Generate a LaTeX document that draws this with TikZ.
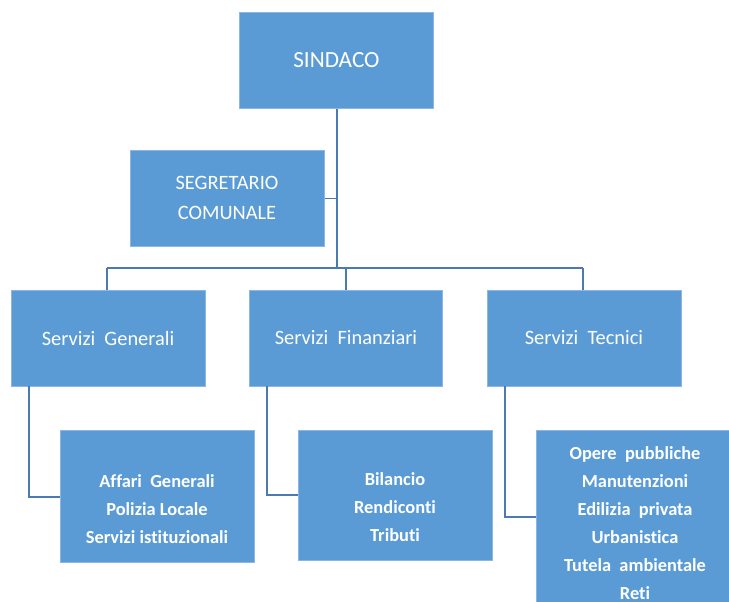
\documentclass[tikz,border=0pt]{standalone}
\usepackage{fontspec}
\setmainfont{Carlito}[Ligatures={NoCommon}]
\definecolor{boxfill}{HTML}{5B9BD5}
\definecolor{boxedge}{HTML}{8DB6E2}
\definecolor{linecol}{HTML}{4A7AB0}
\begin{document}
\begin{tikzpicture}[x=1pt,y=-1pt,
  box/.style={draw=boxedge,line width=0.8pt,fill=boxfill,inner sep=0pt,anchor=north west},
  toptxt/.style={text=white,font=\fontsize{20.4}{30}\selectfont,align=center},
  subtxt/.style={text=white,font=\fontsize{18.4}{28}\selectfont\bfseries,align=center},
  conn/.style={draw=linecol,line width=1.8pt}]
\useasboundingbox (0,0) rectangle (729,602);
% boxes
\node[box,minimum width=194pt,minimum height=96pt] (sind) at (239,12) {};
\node[box,minimum width=194pt,minimum height=96pt] (segr) at (130,150) {};
\node[box,minimum width=194pt,minimum height=96pt] (gen) at (11,290) {};
\node[box,minimum width=193pt,minimum height=96pt] (fin) at (249,290) {};
\node[box,minimum width=194pt,minimum height=96pt] (tec) at (487,290) {};
\node[box,minimum width=194pt,minimum height=132pt] (aff) at (60,430) {};
\node[box,minimum width=194pt,minimum height=130pt] (bil) at (298,430) {};
\node[box,minimum width=198pt,minimum height=190pt] (ope) at (536,430) {};
% texts
\node[toptxt,font=\fontsize{23.2}{30}\selectfont] (tsind) at (sind.center) {SINDACO};
\node[toptxt] (tsegr) at (227,198) {SEGRETARIO\\COMUNALE};
\node[toptxt] (tgen) at (108,338) {Servizi\ \ Generali};
\node[toptxt] (tfin) at (346,338) {Servizi\ \ Finanziari};
\node[toptxt] (ttec) at (584,338) {Servizi\ \ Tecnici};
\node[subtxt] (taff) at (157,509) {Affari\ \ Generali\\Polizia Locale\\Servizi istituzionali};
\node[subtxt] (tbil) at (395,507) {Bilancio\\Rendiconti\\Tributi};
\node[subtxt] (tope) at (635,523) {Opere\ \ pubbliche\\Manutenzioni\\Edilizia\ \ privata\\Urbanistica\\Tutela\ \ ambientale\\Reti};
% connectors
\coordinate (bus) at (337,268);
\coordinate (busL) at (107,268);
\coordinate (busR) at (583,268);
\draw[conn] (sind.south -| bus) -- (bus);
\draw[conn] (segr.east) -- (segr.east -| bus);
\draw[conn] (busL) -- (busR);
\draw[conn] (busL) -- (busL |- gen.north);
\draw[conn] (346,268) -- (346,290);
\draw[conn] (busR) -- (busR |- tec.north);
\draw[conn] (29,386) |- (aff.west |- 0,497);
\draw[conn] (267,386) |- (bil.west |- 0,495);
\draw[conn] (505,386) |- (ope.west |- 0,517);
\end{tikzpicture}
\end{document}
